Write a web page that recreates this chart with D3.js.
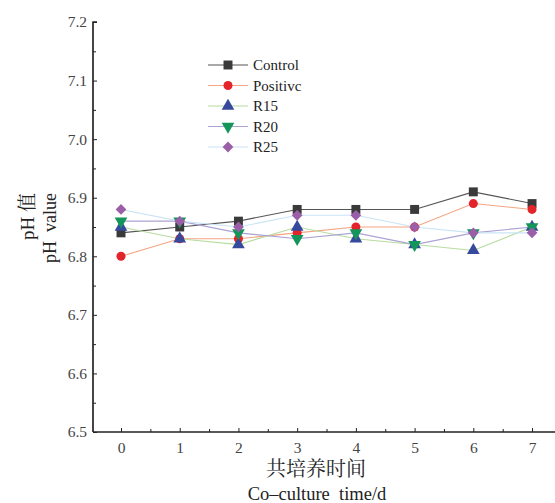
<!DOCTYPE html>
<html><head><meta charset="utf-8">
<script src="https://cdn.jsdelivr.net/npm/d3@7"></script>
<style>body{margin:0;background:#fff}svg{display:block}text{white-space:pre}</style>
</head><body>
<script>
const days = [0,1,2,3,4,5,6,7];
const control  = [6.84,6.85,6.86,6.88,6.88,6.88,6.91,6.89];
const positive = [6.80,6.83,6.83,6.84,6.85,6.85,6.89,6.88];
const r15      = [6.85,6.83,6.82,6.85,6.83,6.82,6.81,6.85];
const r20      = [6.86,6.86,6.84,6.83,6.84,6.82,6.84,6.85];
const r25      = [6.88,6.86,6.85,6.87,6.87,6.85,6.84,6.84];
const seriesNames = ["Control","Positivc","R15","R20","R25"];
const yTicks = [6.5,6.6,6.7,6.8,6.9,7.0,7.1,7.2];

const series = [
  {name:seriesNames[0], values:control,  mark:"square",   fill:"#3a3a3a", line:"#555555"},
  {name:seriesNames[1], values:positive, mark:"circle",   fill:"#e3242b", line:"#f4a582"},
  {name:seriesNames[2], values:r15,      mark:"triangle", fill:"#37499c", line:"#b8dca0"},
  {name:seriesNames[3], values:r20,      mark:"triDown",  fill:"#14955a", line:"#aaa3d4"},
  {name:seriesNames[4], values:r25,      mark:"diamond",  fill:"#9b5ea8", line:"#c9e4f6"}
];

const W=555,H=503;
const svg=d3.select("body").append("svg").attr("width",W).attr("height",H);
const x=d3.scaleLinear().domain([-0.477,7.5]).range([93,561.4]);
const y=d3.scaleLinear().domain([6.5,7.2]).range([432,22]);
const font="'Liberation Serif','Times New Roman',serif";
const cjk="'Liberation Serif','Noto Serif CJK SC','Noto Sans CJK SC',serif";

// axes
const gx=svg.append("g").attr("transform","translate(0,432)");
gx.call(d3.axisBottom(x).tickValues(days).tickSize(-4).tickPadding(10).tickFormat(d3.format("d")));
gx.append("g").call(d3.axisBottom(x).tickValues(days.map(d=>d+0.5)).tickSize(-3).tickFormat(""));
const gy=svg.append("g").attr("transform","translate(93,0)");
gy.call(d3.axisLeft(y).tickValues(yTicks).tickSize(-4).tickPadding(6).tickFormat(d3.format(".1f")));
gy.append("g").call(d3.axisLeft(y).tickValues(yTicks.slice(0,-1).map(d=>d+0.05)).tickSize(-3).tickFormat(""));
svg.selectAll(".domain").attr("stroke","#222").attr("stroke-width",1.2);
svg.selectAll(".tick line").attr("stroke","#222");
svg.selectAll(".tick text").attr("font-family",font).attr("font-size",15.5).attr("fill","#444");
gx.selectAll(".domain").attr("d","M93,0H561");
gy.selectAll(".domain").attr("d","M0,432V22H4");

// symbols
function sym(type){
  const m={square:[d3.symbolSquare,80],circle:[d3.symbolCircle,64],triangle:[d3.symbolTriangle,70],triDown:[d3.symbolTriangle,70],diamond:[d3.symbolSquare,58]}[type];
  return d3.symbol().type(m[0]).size(m[1])();
}
function rot(type){return type==="triDown"?" rotate(180)":(type==="diamond"?" rotate(45)":"");}

const line=d3.line().x((d,i)=>x(days[i])).y(d=>y(d));
series.forEach(s=>{
  svg.append("path").attr("d",line(s.values)).attr("fill","none").attr("stroke",s.line).attr("stroke-width",1.1);
});
series.forEach(s=>{
  svg.append("g").selectAll("path").data(s.values).join("path")
    .attr("d",sym(s.mark))
    .attr("transform",(d,i)=>`translate(${x(days[i])},${y(d)})`+rot(s.mark))
    .attr("fill",s.fill);
});

// legend
const leg=svg.append("g");
series.forEach((s,i)=>{
  const yy=65+i*20.5;
  leg.append("line").attr("x1",208).attr("x2",248).attr("y1",yy).attr("y2",yy).attr("stroke",s.line).attr("stroke-width",1.1);
  leg.append("path").attr("d",sym(s.mark)).attr("transform",`translate(228,${yy})`+rot(s.mark)).attr("fill",s.fill);
  leg.append("text").attr("x",253).attr("y",yy+5).attr("font-family",font).attr("font-size",15).attr("fill","#222").text(s.name);
});

// axis titles
svg.append("text").attr("x",316).attr("y",476).attr("text-anchor","middle").attr("font-family",cjk).attr("font-size",20).attr("fill","#222").text("共培养时间");
svg.append("text").attr("x",317).attr("y",500).attr("text-anchor","middle").attr("font-family",font).attr("font-size",18.5).attr("fill","#222").text("Co–culture  time/d");
svg.append("text").attr("transform","translate(34,193) rotate(-90)").attr("text-anchor","end").attr("font-family",cjk).attr("font-size",19).attr("fill","#222").text("pH 值");
svg.append("text").attr("transform","translate(56,193) rotate(-90)").attr("text-anchor","end").attr("font-family",font).attr("font-size",18).attr("fill","#222").text("pH  value");
</script>
</body></html>
